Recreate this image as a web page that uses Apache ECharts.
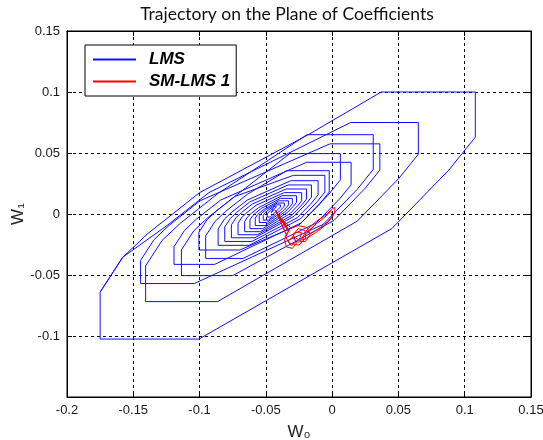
<!DOCTYPE html>
<html>
<head>
<meta charset="utf-8">
<script src="https://cdn.jsdelivr.net/npm/echarts@6/dist/echarts.min.js"></script>
<style>
html,body{margin:0;padding:0;background:#fff;}
#chart{width:543px;height:440px;}
</style>
</head>
<body>
<div id="chart"></div>
<script>
// ---- data ----
const xTickLabels = ['-0.2','-0.15','-0.1','-0.05','0','0.05','0.1','0.15'];
const yTickLabels = ['','-0.1','-0.05','0','0.05','0.1','0.15'];
const titleText = 'Trajectory on the Plane of Coefficients';
const seriesNames = ['LMS', 'SM-LMS 1'];

// LMS trajectory, loop by loop, [w0, w1]
const lmsLoop1 = [[-0.175,-0.064],[-0.158,-0.0355],[-0.139,-0.016],[-0.100,0.0175],[-0.018,0.065],
  [0.037,0.100],[0.108,0.100],[0.108,0.063],[0.088,0.036],[0.045,-0.012],
  [-0.1005,-0.1025],[-0.175,-0.1025],[-0.175,-0.064],[-0.158,-0.0355],[-0.124,-0.009],[-0.093,0.0175]];
const lmsLoop2 = [[0.014,0.075],[0.065,0.075],[0.065,0.049],[0.0504,0.0293],[0.019,-0.0058],[-0.0864,-0.0718],[-0.1407,-0.0718],[-0.1407,-0.0425],[-0.1283,-0.0217],[-0.1144,-0.0075],[-0.0859,0.017]];
const lmsLoop3 = [[-0.019,0.065],[0.031,0.065],[0.031,0.0365],[0.019,0.0203],[-0.0068,-0.0085],[-0.104,-0.057],[-0.1445,-0.057],[-0.1445,-0.038],[-0.1343,-0.0209],[-0.1229,-0.0092],[-0.0995,0.0109]];
const lmsLoop4 = [[-0.0017,0.0575],[0.036,0.0575],[0.036,0.036],[0.025,0.0212],[0.0014,-0.0053],[-0.075,-0.0505],[-0.1137,-0.0505],[-0.1137,-0.0295],[-0.1044,-0.0138],[-0.0939,-0.0031],[-0.0724,0.0153]];
const lmsLoop5 = [[-0.032,0.0495],[0.0062,0.0495],[0.0062,0.028],[-0.0032,0.0153],[-0.0234,-0.0073],[-0.0886,-0.0413],[-0.1193,-0.0413],[-0.1193,-0.0268],[-0.1113,-0.0134],[-0.1024,-0.0042],[-0.084,0.0115]];
const lmsLoop6 = [[-0.0193,0.0424],[0.0143,0.0424],[0.0143,0.024],[0.0059,0.0127],[-0.0122,-0.0075],[-0.0672,-0.0364],[-0.0954,-0.0364],[-0.0954,-0.018],[-0.0883,-0.006],[-0.0803,0.0022],[-0.0639,0.0162]];
const lmsLoop7 = [[-0.0344,0.0355],[-0.0022,0.0355],[-0.0022,0.018],[-0.0094,0.0083],[-0.0249,-0.009],[-0.0697,-0.0295],[-0.1005,-0.0295],[-0.1005,-0.015],[-0.0944,-0.0047],[-0.0875,0.0023],[-0.0735,0.0143]];
const lmsLoop8 = [[-0.0292,0.0317],[-0.0055,0.0317],[-0.0055,0.0179],[-0.0113,0.0101],[-0.0238,-0.0039],[-0.0626,-0.0257],[-0.086,-0.0257],[-0.086,-0.0123],[-0.0811,-0.004],[-0.0756,0.0016],[-0.0642,0.0113]];
const lmsLoop9 = [[-0.0312,0.0273],[-0.0106,0.0273],[-0.0106,0.0157],[-0.0156,0.0089],[-0.0264,-0.0031],[-0.0605,-0.0225],[-0.081,-0.0225],[-0.081,-0.0106],[-0.0767,-0.0035],[-0.072,0.0014],[-0.0622,0.0098]];
const lmsLoop10 = [[-0.0332,0.0238],[-0.0156,0.0238],[-0.0156,0.0139],[-0.0198,0.0082],[-0.0288,-0.0019],[-0.0583,-0.0195],[-0.076,-0.0195],[-0.076,-0.0089],[-0.0724,-0.0029],[-0.0684,0.0012],[-0.0602,0.0082]];
const lmsLoop11 = [[-0.0347,0.0205],[-0.0193,0.0205],[-0.0193,0.0123],[-0.0229,0.0074],[-0.0306,-0.0012],[-0.0562,-0.017],[-0.071,-0.017],[-0.071,-0.0076],[-0.0679,-0.0025],[-0.0645,0.001],[-0.0575,0.0071]];
const lmsLoop12 = [[-0.0362,0.0175],[-0.023,0.0175],[-0.023,0.0108],[-0.0258,0.007],[-0.0318,0.0003],[-0.054,-0.0145],[-0.066,-0.0145],[-0.066,-0.0062],[-0.0636,-0.0022],[-0.061,0.0005],[-0.0555,0.0052]];
const lmsLoop13 = [[-0.0378,0.015],[-0.0269,0.015],[-0.0269,0.0095],[-0.0292,0.0064],[-0.0341,0.0009],[-0.0523,-0.012],[-0.062,-0.012],[-0.062,-0.0048],[-0.06,-0.0015],[-0.0579,0.0007],[-0.0534,0.0046]];
const lmsLoop14 = [[-0.039,0.0128],[-0.030,0.0128],[-0.030,0.0084],[-0.0318,0.006],[-0.0357,0.0016],[-0.0506,-0.0095],[-0.058,-0.0095],[-0.058,-0.0034],[-0.0565,-0.0008],[-0.0548,0.0009],[-0.0513,0.0039]];
const lmsLoop15 = [[-0.0402,0.0108],[-0.033,0.0108],[-0.033,0.0074],[-0.0344,0.0055],[-0.0374,0.0021],[-0.0493,-0.007],[-0.055,-0.007],[-0.055,-0.002],[-0.0538,0.0],[-0.0525,0.0014],[-0.0497,0.0037]];
const lmsLoop16 = [[-0.0414,0.009],[-0.036,0.009],[-0.036,0.0065],[-0.037,0.0052],[-0.0392,0.0028],[-0.048,-0.005],[-0.052,-0.005],[-0.052,-0.001],[-0.0512,0.0004],[-0.0502,0.0014],[-0.0483,0.0031]];
const lmsLoop17 = [[-0.0426,0.0075],[-0.039,0.0075],[-0.039,0.0058],[-0.0396,0.005],[-0.0409,0.0036],[-0.0467,-0.0025],[-0.049,-0.0025],[-0.049,0.0003],[-0.0485,0.0012],[-0.0479,0.0017],[-0.0468,0.0027]];
const lmsLoop18 = [[-0.0438,0.006],[-0.042,0.006],[-0.042,0.005],[-0.0459,0.001],[-0.047,0.001],[-0.047,0.0025],[-0.0445,0.0045]];

// SM-LMS trajectory, [w0, w1]
const smLmsFan = [
  [-0.0432,0.0033],[-0.0350,-0.0090],[-0.0428,0.0026],[-0.0338,-0.0110],[-0.0425,0.0020],[-0.0330,-0.0130],
  [-0.0420,0.0012],[-0.0325,-0.0150],[-0.0416,0.0004],[-0.0345,-0.0170],[-0.0410,-0.0010],[-0.0315,-0.0110]
];
const smLmsTangle = [
  [-0.0360,-0.0210],[-0.0345,-0.0270],[-0.0300,-0.0282],[-0.0270,-0.0240],[-0.0295,-0.0170],[-0.0255,-0.0120],[-0.0205,-0.0135],[-0.0200,-0.0200],
  [-0.0250,-0.0255],[-0.0320,-0.0240],[-0.0355,-0.0185],[-0.0320,-0.0120],[-0.0260,-0.0095],[-0.0190,-0.0110],[-0.0165,-0.0165],[-0.0200,-0.0225],
  [-0.0265,-0.0230],[-0.0300,-0.0195],[-0.0280,-0.0150],[-0.0230,-0.0150],[-0.0245,-0.0205],[-0.0310,-0.0260],[-0.0335,-0.0220],[-0.0290,-0.0185]
];
const smLmsEllipse = [
  [-0.0240,-0.0220],[-0.0190,-0.0130],[-0.0120,-0.0060],[-0.0050,-0.0010],[0.0000,0.0040],[0.0005,0.0055],[0.0020,0.0055],[0.0020,0.0010],[-0.0010,-0.0040],[-0.0060,-0.0100],[-0.0120,-0.0150],[-0.0180,-0.0190],[-0.0230,-0.0215],
  [-0.0200,-0.0170],[-0.0130,-0.0090],[-0.0060,-0.0030],[-0.0010,0.0020],[0.0010,0.0000],[-0.0030,-0.0060],[-0.0100,-0.0120],[-0.0160,-0.0160],[-0.0190,-0.0150],[-0.0140,-0.0100]
];

const lmsPath = [].concat(lmsLoop1, lmsLoop2, lmsLoop3, lmsLoop4, lmsLoop5, lmsLoop6, lmsLoop7, lmsLoop8, lmsLoop9,
  lmsLoop10, lmsLoop11, lmsLoop12, lmsLoop13, lmsLoop14, lmsLoop15, lmsLoop16, lmsLoop17, lmsLoop18);
const smLmsPath = [].concat(smLmsFan, smLmsTangle, smLmsEllipse);

// ---- chart ----
const chart = echarts.init(document.getElementById('chart'), null, {renderer: 'canvas'});
const labelFont = {color: '#1a1a1a', fontSize: 13, fontFamily: 'Liberation Sans'};
const tickStyle = {inside: true, length: 5, lineStyle: {color: '#000', width: 1}};
const axisLineStyle = {show: true, onZero: false, lineStyle: {color: '#000', width: 1}};
const gridLineStyle = {show: true, lineStyle: {color: '#000', width: 1, type: [3, 3]}};

chart.setOption({
  animation: false,
  backgroundColor: '#fff',
  grid: {left: 67, right: 12, top: 31, bottom: 43, show: true, borderColor: '#000', borderWidth: 1,
    backgroundColor: 'transparent', containLabel: false, outerBoundsMode: 'none'},
  graphic: [{
    type: 'text', x: 287, y: 14, z: 100,
    style: {text: titleText, fill: '#111', font: '17.5px Lato', textAlign: 'center', textVerticalAlign: 'middle'}
  }],
  legend: {
    data: seriesNames, left: 85, top: 45, orient: 'vertical', icon: 'rect',
    itemWidth: 43, itemHeight: 2, itemGap: 5, padding: [6, 6, 6, 8],
    borderColor: '#000', borderWidth: 1, backgroundColor: '#fff', borderRadius: 0,
    formatter: function (name) { return '{t|' + name + '}'; },
    textStyle: {rich: {t: {fontSize: 17, fontStyle: 'italic', fontWeight: 'bold', fontFamily: 'Liberation Sans', color: '#000', padding: [0, 0, 0, 8], lineHeight: 17}}}
  },
  xAxis: [{
    type: 'value', min: -0.2, max: 0.15, interval: 0.05, position: 'bottom',
    axisLine: axisLineStyle, axisTick: tickStyle,
    axisLabel: Object.assign({margin: 7, formatter: function (v, i) { return xTickLabels[i]; }}, labelFont),
    splitLine: gridLineStyle,
    name: 'W\u2080', nameLocation: 'middle', nameGap: 27, nameMoveOverlap: false,
    nameTextStyle: {fontSize: 17, fontFamily: 'Liberation Sans', color: '#222'}
  }, {
    type: 'value', min: -0.2, max: 0.15, interval: 0.05, position: 'top',
    axisLine: axisLineStyle, axisTick: tickStyle, axisLabel: {show: false}, splitLine: {show: false}
  }],
  yAxis: [{
    type: 'value', min: -0.15, max: 0.15, interval: 0.05, position: 'left',
    axisLine: axisLineStyle, axisTick: tickStyle,
    axisLabel: Object.assign({margin: 7, formatter: function (v, i) { return yTickLabels[i]; }}, labelFont),
    splitLine: gridLineStyle,
    name: 'W\u2081', nameLocation: 'middle', nameGap: 40, nameRotate: 90, nameMoveOverlap: false,
    nameTextStyle: {fontSize: 17, fontFamily: 'Liberation Sans', color: '#222'}
  }, {
    type: 'value', min: -0.15, max: 0.15, interval: 0.05, position: 'right',
    axisLine: axisLineStyle, axisTick: tickStyle, axisLabel: {show: false}, splitLine: {show: false}
  }],
  series: [{
    name: seriesNames[0], type: 'line', data: lmsPath, xAxisIndex: 0, yAxisIndex: 0,
    showSymbol: false, symbol: 'none', smooth: false,
    lineStyle: {color: '#1010ff', width: 1}, itemStyle: {color: '#1010ff'}
  }, {
    name: seriesNames[1], type: 'line', data: smLmsPath, xAxisIndex: 0, yAxisIndex: 0,
    showSymbol: false, symbol: 'none', smooth: false,
    lineStyle: {color: '#ff0000', width: 1}, itemStyle: {color: '#ff0000'}
  }]
});
</script>
</body>
</html>
